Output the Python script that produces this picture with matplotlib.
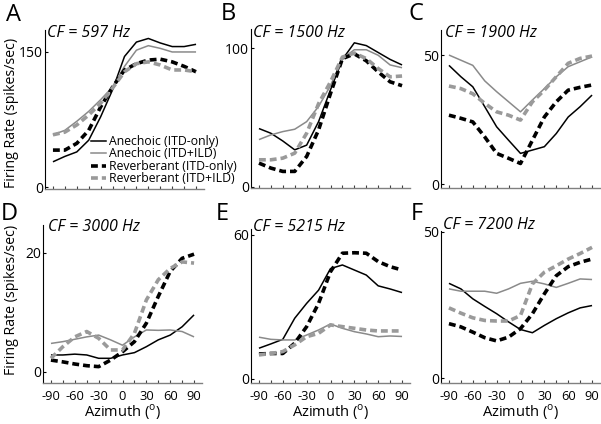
import numpy as np
import matplotlib
matplotlib.use("Agg")
import matplotlib.pyplot as plt
from matplotlib.lines import Line2D

plt.rcParams['font.family'] = ['Open Sans', 'DejaVu Sans']
plt.rcParams['mathtext.fontset'] = 'custom'
plt.rcParams['mathtext.rm'] = 'Open Sans'

# azimuth (deg)
azimuth = [-90, -75, -60, -45, -30, -15, 0, 15, 30, 45, 60, 75, 90]
xtick_labels = ['-90', '', '-60', '', '-30', '', '0', '', '30', '', '60', '', '90']

panel_letters = ['A', 'B', 'C', 'D', 'E', 'F']
cf_labels = ['CF = 597 Hz', 'CF = 1500 Hz', 'CF = 1900 Hz',
             'CF = 3000 Hz', 'CF = 5215 Hz', 'CF = 7200 Hz']
ytop_ticks = [150, 100, 50, 20, 60, 50]
legend_labels = ['Anechoic (ITD-only)', 'Anechoic (ITD+ILD)',
                 'Reverberant (ITD-only)', 'Reverberant (ITD+ILD)']

# firing rates (spikes/sec)
A_anech_itd = [28, 34, 39, 52, 78, 108, 145, 161, 165, 160, 156, 156, 158.5]
A_anech_ild = [58, 63, 73, 84, 97, 111, 134, 152, 157, 154, 150, 150, 150]
A_rev_itd = [41, 41, 48.5, 63, 89, 111, 130, 137, 141, 142, 139, 134, 128]
A_rev_ild = [58, 61, 69, 80, 93, 110, 128, 137, 139, 135.5, 130, 130, 128]

B_anech_itd = [42, 38.6, 33, 26.6, 30, 47, 70, 92, 104, 102, 97, 92, 88]
B_anech_ild = [34, 37.4, 39.8, 41.5, 47, 58, 73, 92.6, 99, 99, 95, 88, 86]
B_rev_itd = [17, 13.4, 11, 11, 21.8, 41, 67.4, 92.6, 96, 91, 83, 75.8, 73]
B_rev_ild = [19.4, 19.4, 20.6, 24.2, 38.6, 60, 75.8, 93.7, 96.6, 92.6, 85.4, 79.4, 80]

C_anech_itd = [46, 41.6, 37.7, 30, 22.2, 17, 11.9, 13.2, 14.5, 19.6, 26, 30, 34.5]
C_anech_ild = [50, 48, 46, 40, 35.8, 31.9, 28, 32.6, 37, 41.6, 45.5, 47.4, 49.3]
C_rev_itd = [26.7, 25.5, 24.1, 18.3, 11.9, 10, 8, 17, 26, 31.9, 36.4, 37.5, 38.4]
C_rev_ild = [38, 37, 35, 31.3, 28, 26.7, 24.8, 31.9, 36.4, 41.6, 46.8, 48.7, 49.6]

D_anech_itd = [2.86, 2.86, 3.0, 2.86, 2.3, 2.3, 2.86, 3.25, 4.25, 5.4, 6.2, 7.6, 9.6]
D_anech_ild = [4.8, 5.1, 5.5, 5.9, 6.2, 5.4, 4.5, 5.9, 7.06, 7.0, 7.06, 6.8, 5.9]
D_rev_itd = [2.0, 1.7, 1.34, 1.06, 0.9, 2.0, 3.4, 5.1, 8.2, 12.7, 16.9, 19.1, 19.8]
D_rev_ild = [2.3, 4.25, 5.9, 6.8, 5.66, 3.7, 3.7, 6.5, 12.1, 15.5, 17.4, 18.5, 18.3]

E_anech_itd = [12.8, 14.6, 16.5, 25.3, 31.5, 37, 46, 47.5, 45.4, 43.3, 38.8, 37.5, 36]
E_anech_ild = [17.4, 16.5, 16.25, 16.25, 18.3, 20.4, 22.9, 21.1, 19.7, 18.75, 17.6, 17.9, 17.7]
E_rev_itd = [10.4, 10.6, 10.6, 14.9, 21.8, 31.5, 44.7, 52.4, 52.6, 52.4, 48.9, 46.8, 45.4]
E_rev_ild = [10, 10.6, 11.4, 14.2, 17.6, 19, 22.5, 21.8, 21.1, 20.4, 20, 20, 20]

F_anech_itd = [32.4, 30.5, 27.1, 24.5, 22, 19.2, 16.6, 15.5, 18, 20.3, 22.3, 24, 24.8]
F_anech_ild = [30.5, 29.7, 29.7, 29.7, 29, 30.5, 32.4, 33.1, 32.2, 31, 32.4, 33.9, 33.7]
F_rev_itd = [18.6, 17.5, 15.7, 13.8, 12.7, 14, 16.9, 22, 28.8, 35, 38.1, 39.6, 40.7]
F_rev_ild = [24, 22.2, 20.6, 19.7, 19.5, 19.5, 21.4, 32.2, 36.2, 38.4, 40.7, 42.6, 44.7]

panels = [
    (A_anech_itd, A_anech_ild, A_rev_itd, A_rev_ild),
    (B_anech_itd, B_anech_ild, B_rev_itd, B_rev_ild),
    (C_anech_itd, C_anech_ild, C_rev_itd, C_rev_ild),
    (D_anech_itd, D_anech_ild, D_rev_itd, D_rev_ild),
    (E_anech_itd, E_anech_ild, E_rev_itd, E_rev_ild),
    (F_anech_itd, F_anech_ild, F_rev_itd, F_rev_ild),
]

W, H = 601, 424
fig = plt.figure(figsize=(W / 100, H / 100), dpi=100)

# axes boxes in pixels: left, top, right, bottom
boxes = [(45, 30, 204, 189), (251, 29, 410, 188), (441, 30, 600, 188),
         (43, 225, 202, 383), (251, 229, 410, 383), (441, 231, 600, 383)]
ylims = [(-2.2, 174.4), (-1, 114), (-1.5, 59.7),
         (-1.85, 24.7), (-1.7, 62.5), (-1.7, 50.3)]
letter_pos = [(13, 15), (228, 14), (416, 14), (9, 214), (222, 214), (417, 214)]
cf_pos = [(47, 33), (253, 33), (445, 33), (48, 227), (253, 227), (443, 225)]

styles = [dict(color='k', lw=1.1),
          dict(color='#8a8a8a', lw=1.1),
          dict(color='k', lw=2.6, dashes=(1.9, 1.1)),
          dict(color='#9a9a9a', lw=2.6, dashes=(1.9, 1.1))]

axes = []
for i, (l, t, r, b) in enumerate(boxes):
    ax = fig.add_axes([l / W, 1 - b / H, (r - l) / W, (b - t) / H])
    axes.append(ax)
    for series, st in zip(panels[i], styles):
        ax.plot(azimuth, series, solid_capstyle='butt', dash_capstyle='butt', **st)
    ax.set_xlim(-100, 100)
    ax.set_ylim(*ylims[i])
    ax.spines['top'].set_visible(False)
    ax.spines['right'].set_visible(False)
    ax.spines['left'].set_linewidth(0.8)
    ax.spines['bottom'].set_color('#808080')
    ax.spines['bottom'].set_linewidth(1.0)
    ax.set_xticks(azimuth)
    if i >= 3:
        ax.set_xticklabels(xtick_labels, fontsize=9.3)
    else:
        ax.set_xticklabels([])
    ax.set_yticks([0, ytop_ticks[i]])
    ax.set_yticklabels(['0', str(ytop_ticks[i])], fontsize=10)
    ax.tick_params(axis='x', direction='in', length=2.5, width=0.8, color='#404040', pad=5)
    ax.tick_params(axis='y', direction='in', length=2.5, width=0.8, pad=1.5)
    fig.text(letter_pos[i][0] / W, 1 - letter_pos[i][1] / H, panel_letters[i],
             fontsize=17, ha='center', va='center')
    fig.text(cf_pos[i][0] / W, 1 - cf_pos[i][1] / H, cf_labels[i],
             fontsize=11.5, style='italic', ha='left', va='center')
    if i >= 3:
        fig.text(((l + r) / 2) / W, 1 - 412 / H, 'Azimuth ($^{\\rm o}$)',
                 fontsize=10.5, ha='center', va='center')

fig.text(12 / W, 1 - 113 / H, 'Firing Rate (spikes/sec)', rotation=90,
         fontsize=10.2, ha='center', va='center')
fig.text(12 / W, 1 - 300 / H, 'Firing Rate (spikes/sec)', rotation=90,
         fontsize=10.2, ha='center', va='center')

handles = [Line2D([], [], **st) for st in styles]
axes[0].legend(handles, legend_labels, loc='upper left',
               bbox_to_anchor=(91 / W, 1 - 135 / H), bbox_transform=fig.transFigure,
               frameon=False, fontsize=8.8, handlelength=1.25, handletextpad=0.2,
               labelspacing=-0.05, borderpad=0, borderaxespad=0)

fig.savefig('out.png', dpi=100)
